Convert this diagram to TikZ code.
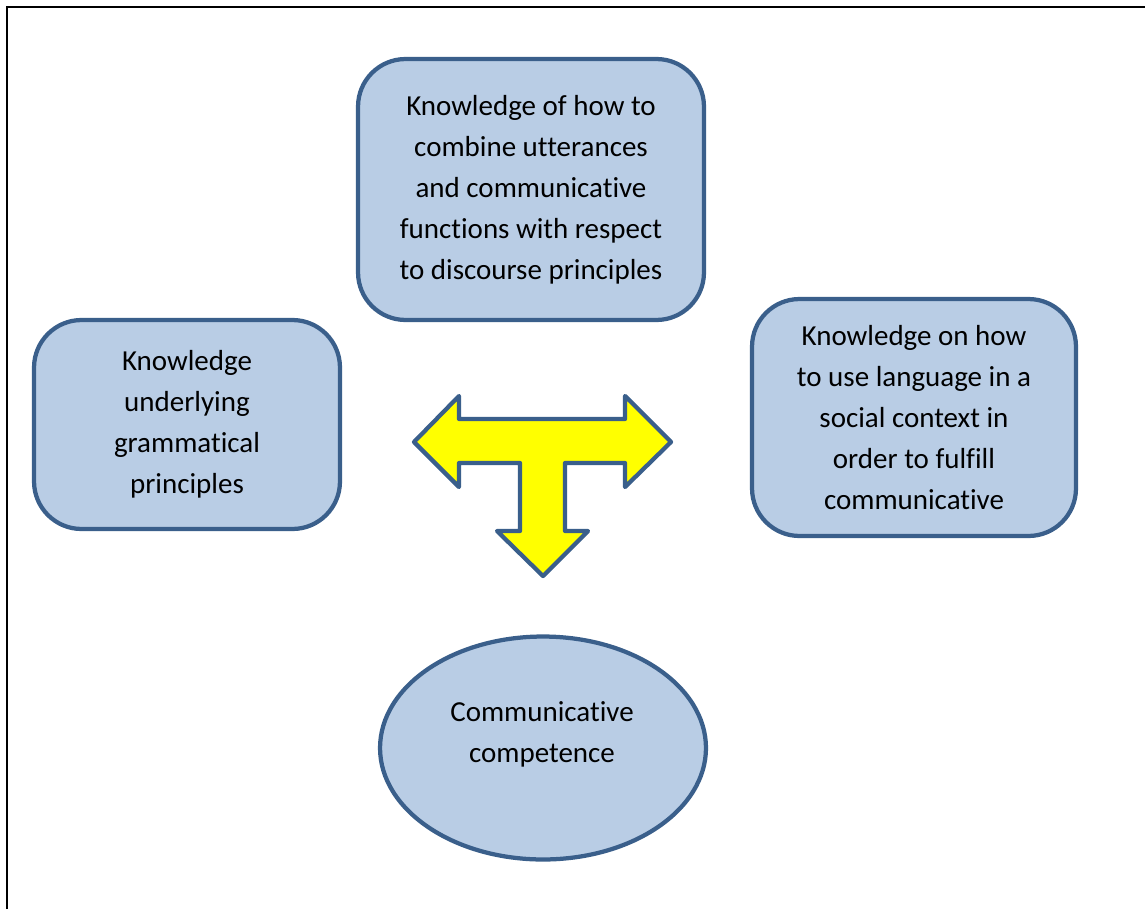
\documentclass[tikz,border=0pt]{standalone}
\usepackage{fontspec}
\setmainfont{Carlito}[Ligatures=NoCommon]
\usetikzlibrary{shapes.geometric}
\definecolor{boxfill}{HTML}{B9CDE5}
\definecolor{boxline}{HTML}{3A5F8B}
\definecolor{arrowfill}{HTML}{FFFF00}

\begin{document}
\begin{tikzpicture}[x=0.02cm, y=-0.02cm, line width=0.085cm, know node/.style={rectangle,rounded corners=0.95cm,draw=boxline,fill=boxfill,align=center,inner sep=0pt}, comp node/.style={ellipse,draw=boxline,fill=boxfill,inner sep=0pt,minimum width=6.52cm,minimum height=4.46cm}]
\useasboundingbox (0,0) rectangle (1145,909);
\draw[line width=0.05cm] (7,909) -- (7,7) -- (1145,7);
\begin{scope}[every node/.style={font=\fontsize{16.5}{23.3}\selectfont}]
\node[know node,minimum width=6.92cm,minimum height=5.22cm] (disc) at (531,189.5) {Knowledge of how to\\combine utterances\\and communicative\\functions with respect\\to discourse principles};
\node[know node,minimum width=6.12cm,minimum height=4.18cm] (gram) at (187,424.5) {Knowledge\\underlying\\grammatical\\principles};
\node[know node,minimum width=6.48cm,minimum height=4.74cm] (socio) at (914,417.5) {Knowledge on how\\to use language in a\\social context in\\order to fulfill\\communicative};
\node[comp node] (comp) at (543,748) {};
\node[align=center] (comptext) at (542,734) {Communicative\\competence};
\end{scope}
% the T-shaped arrow pointing left, right and down
\begin{scope}
\draw[draw=boxline,fill=arrowfill,line join=round] (414,442) -- (459,396) -- (459,419) -- (625,419) -- (625,396) -- (671,442) -- (625,487) -- (625,463) -- (565,463) -- (565,531) -- (588,531) -- (543,576) -- (497,531) -- (520,531) -- (520,463) -- (459,463) -- (459,487) -- cycle;
\end{scope}
\end{tikzpicture}
\end{document}
